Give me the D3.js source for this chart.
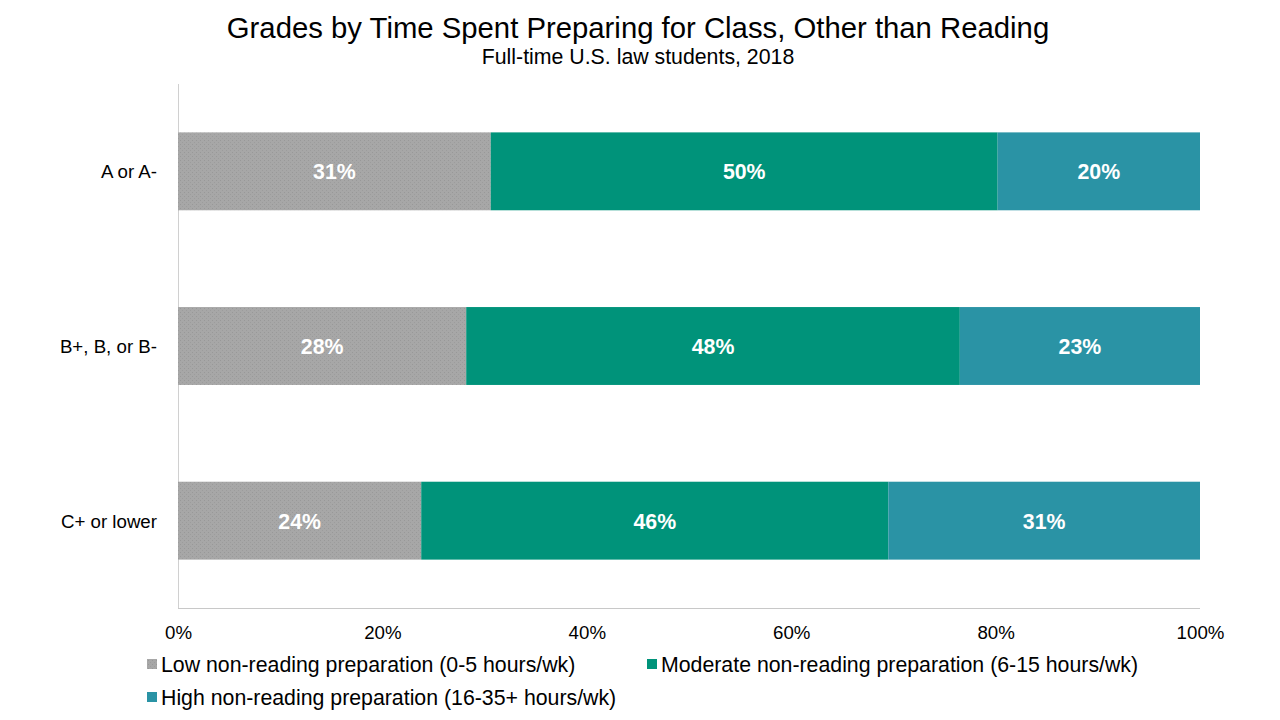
<!DOCTYPE html>
<html><head><meta charset="utf-8">
<script src="https://cdn.jsdelivr.net/npm/d3@7"></script>
<style>body{margin:0;background:#fff}svg{display:block}text{font-family:"Liberation Sans",Arial,sans-serif}</style>
</head><body><svg id="c" width="1280" height="720"></svg>
<script>
const categories = ["A or A-", "B+, B, or B-", "C+ or lower"];
const seriesNames = ["Low non-reading preparation (0-5 hours/wk)", "Moderate non-reading preparation (6-15 hours/wk)", "High non-reading preparation (16-35+ hours/wk)"];
const lowValues = [30.6, 28.2, 23.8];
const moderateValues = [49.6, 48.3, 45.7];
const highValues = [19.8, 23.5, 30.5];
const labelValues = [[31, 28, 24], [50, 48, 46], [20, 23, 31]];
const xTicks = [0, 20, 40, 60, 80, 100];
const colors = ["url(#stip)", "#00937a", "#2a93a5"];
const legendColors = ["#a6a6a6", "#00937a", "#2a93a5"];

const svg = d3.select("#c");
const defs = svg.append("defs");
const pat = defs.append("pattern").attr("id","stip").attr("patternUnits","userSpaceOnUse").attr("width",4).attr("height",4);
pat.append("rect").attr("width",4).attr("height",4).attr("fill","#a7a7a7");
pat.append("rect").attr("x",0).attr("y",0).attr("width",1).attr("height",1).attr("fill","#989898");
pat.append("rect").attr("x",2).attr("y",2).attr("width",1).attr("height",1).attr("fill","#9c9c9c");

const pLeft = 178, pRight = 1200, pTop = 84, pBottom = 608;
const x = d3.scaleLinear().domain([0,100]).range([pLeft,pRight]);
const y = d3.scaleBand().domain(categories).range([pTop,pBottom]).paddingInner(0.554).paddingOuter(0.277);

svg.append("text").attr("x",638).attr("y",38).attr("text-anchor","middle").attr("font-size",29.3).attr("fill","#000").text("Grades by Time Spent Preparing for Class, Other than Reading");
svg.append("text").attr("x",638).attr("y",64).attr("text-anchor","middle").attr("font-size",21.3).attr("fill","#000").text("Full-time U.S. law students, 2018");

svg.append("line").attr("x1",pLeft+0.5).attr("x2",pLeft+0.5).attr("y1",pTop).attr("y2",pBottom).attr("stroke","#d0d0d0").attr("stroke-width",1);
svg.append("line").attr("x1",pLeft).attr("x2",pRight).attr("y1",pBottom+0.5).attr("y2",pBottom+0.5).attr("stroke","#c8c8c8").attr("stroke-width",1);

const data = categories.map((c,i)=>({cat:c, low:lowValues[i], mod:moderateValues[i], high:highValues[i], i}));
const stack = d3.stack().keys(["low","mod","high"])(data);

stack.forEach((layer,k)=>{
  const g = svg.append("g");
  g.selectAll("rect").data(layer).join("rect")
    .attr("x",d=>x(d[0])).attr("width",d=>x(d[1])-x(d[0]))
    .attr("y",d=>y(d.data.cat)).attr("height",y.bandwidth())
    .attr("fill",colors[k]);
  g.selectAll("text").data(layer).join("text")
    .attr("x",d=>(x(d[0])+x(d[1]))/2).attr("y",d=>y(d.data.cat)+y.bandwidth()/2+8)
    .attr("text-anchor","middle").attr("font-size",21.3).attr("font-weight","bold").attr("fill","#fff")
    .text(d=>labelValues[k][d.data.i]+"%");
});

svg.selectAll("text.cat").data(categories).join("text").attr("class","cat")
  .attr("x",157).attr("y",d=>y(d)+y.bandwidth()/2+7).attr("text-anchor","end").attr("font-size",18.7).attr("fill","#000").text(d=>d);

const xAxis = d3.axisBottom(x).tickValues(xTicks).tickFormat(d=>d+"%").tickSize(0).tickPadding(0);
const ax = svg.append("g").attr("transform",`translate(0,${pBottom})`).call(xAxis);
ax.select(".domain").remove();
ax.selectAll("text").attr("font-size",18.7).attr("fill","#000").attr("dy",0).attr("y",31).style("font-family","'Liberation Sans',Arial,sans-serif");

const legendPos = [[147,664],[647,664],[147,697]];
seriesNames.forEach((n,k)=>{
  const [lx,ly]=legendPos[k];
  svg.append("rect").attr("x",lx).attr("y",ly-5).attr("width",10).attr("height",10).attr("fill",k===0?"url(#stip)":legendColors[k]);
  svg.append("text").attr("x",lx+14).attr("y",ly+7.5).attr("font-size",21.3).attr("fill","#000").text(n);
});
</script></body></html>
